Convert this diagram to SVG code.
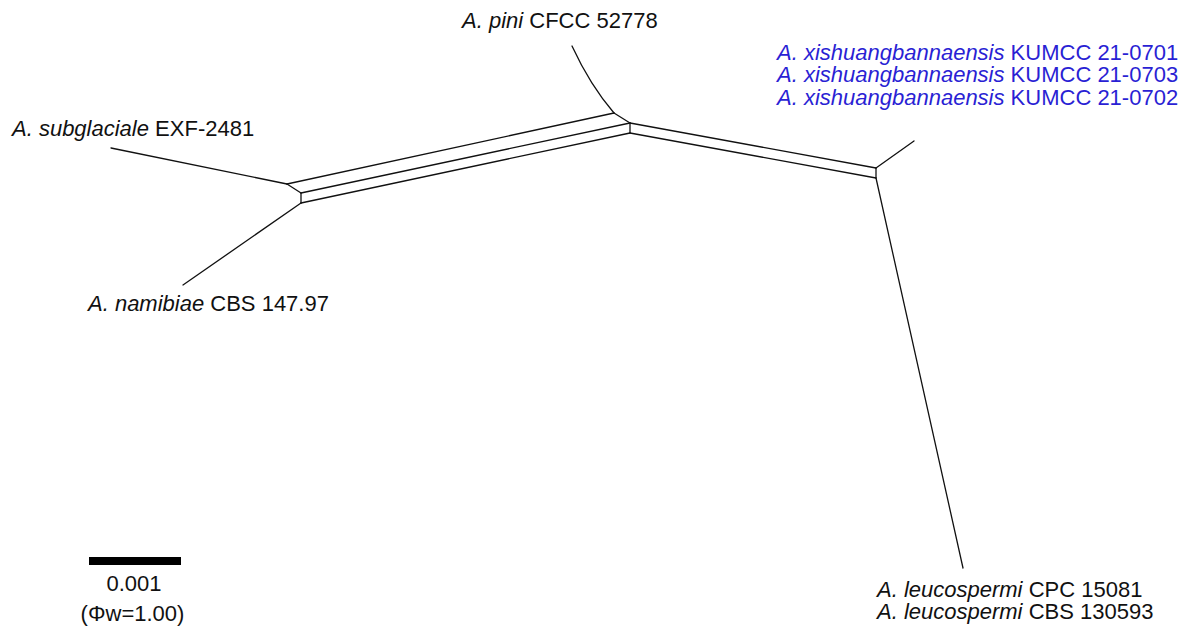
<svg xmlns="http://www.w3.org/2000/svg" width="1185" height="628" viewBox="0 0 1185 628">
  <style>
    text { font-family: "Liberation Sans", Arial, sans-serif; font-size: 22px; fill: #111; }
    .sp { font-style: italic; }
    .blue { fill: #2a1fd4; }
    .edge { stroke: #111; stroke-width: 1.3; fill: none; stroke-linecap: round; stroke-linejoin: round; }
  </style>
  <rect width="1185" height="628" fill="#fff"/>

  <!-- split network edges -->
  <g id="connectors">
    <!-- left splits box -->
    <line class="edge" x1="287" y1="184" x2="301" y2="193"/>
    <line class="edge" x1="301" y1="193" x2="301" y2="203"/>
    <!-- long parallel edges, left box to centre box -->
    <line class="edge" x1="287" y1="184" x2="614" y2="113"/>
    <line class="edge" x1="301" y1="193" x2="630" y2="123"/>
    <line class="edge" x1="301" y1="203" x2="630" y2="133"/>
    <!-- centre box -->
    <line class="edge" x1="614" y1="113" x2="630" y2="123"/>
    <line class="edge" x1="630" y1="123" x2="630" y2="133"/>
    <!-- parallel edges, centre box to right box -->
    <line class="edge" x1="630" y1="123" x2="876" y2="168"/>
    <line class="edge" x1="630" y1="133" x2="876" y2="178"/>
    <line class="edge" x1="876" y1="168" x2="876" y2="178"/>
    <!-- pendant edges to taxa -->
    <line class="edge" x1="111" y1="148" x2="287" y2="184"/>
    <line class="edge" x1="183" y1="285" x2="301" y2="203"/>
    <path class="edge" d="M572,46 Q590,85 614,113"/>
    <line class="edge" x1="914" y1="141" x2="876" y2="168"/>
    <line class="edge" x1="963" y1="568" x2="876" y2="178"/>
  </g>

  <g id="taxon-subglaciale">
    <text x="12" y="136"><tspan class="sp">A. subglaciale</tspan> EXF-2481</text>
  </g>
  <g id="taxon-pini">
    <text x="462" y="28"><tspan class="sp">A. pini</tspan> CFCC 52778</text>
  </g>
  <g id="taxon-xishuangbannaensis">
    <text class="blue" x="777" y="59.5"><tspan class="sp">A. xishuangbannaensis</tspan> KUMCC 21-0701</text>
    <text class="blue" x="777" y="82"><tspan class="sp">A. xishuangbannaensis</tspan> KUMCC 21-0703</text>
    <text class="blue" x="777" y="104.5"><tspan class="sp">A. xishuangbannaensis</tspan> KUMCC 21-0702</text>
  </g>
  <g id="taxon-namibiae">
    <text x="88" y="311"><tspan class="sp">A. namibiae</tspan> CBS 147.97</text>
  </g>
  <g id="taxon-leucospermi">
    <text x="877" y="596.5"><tspan class="sp">A. leucospermi</tspan> CPC 15081</text>
    <text x="877" y="619"><tspan class="sp">A. leucospermi</tspan> CBS 130593</text>
  </g>

  <g id="scale-bar">
    <rect x="89" y="557" width="92" height="8" fill="#000"/>
    <text x="134" y="591" text-anchor="middle">0.001</text>
    <text x="132.5" y="621" text-anchor="middle">(Φw=1.00)</text>
  </g>
</svg>
